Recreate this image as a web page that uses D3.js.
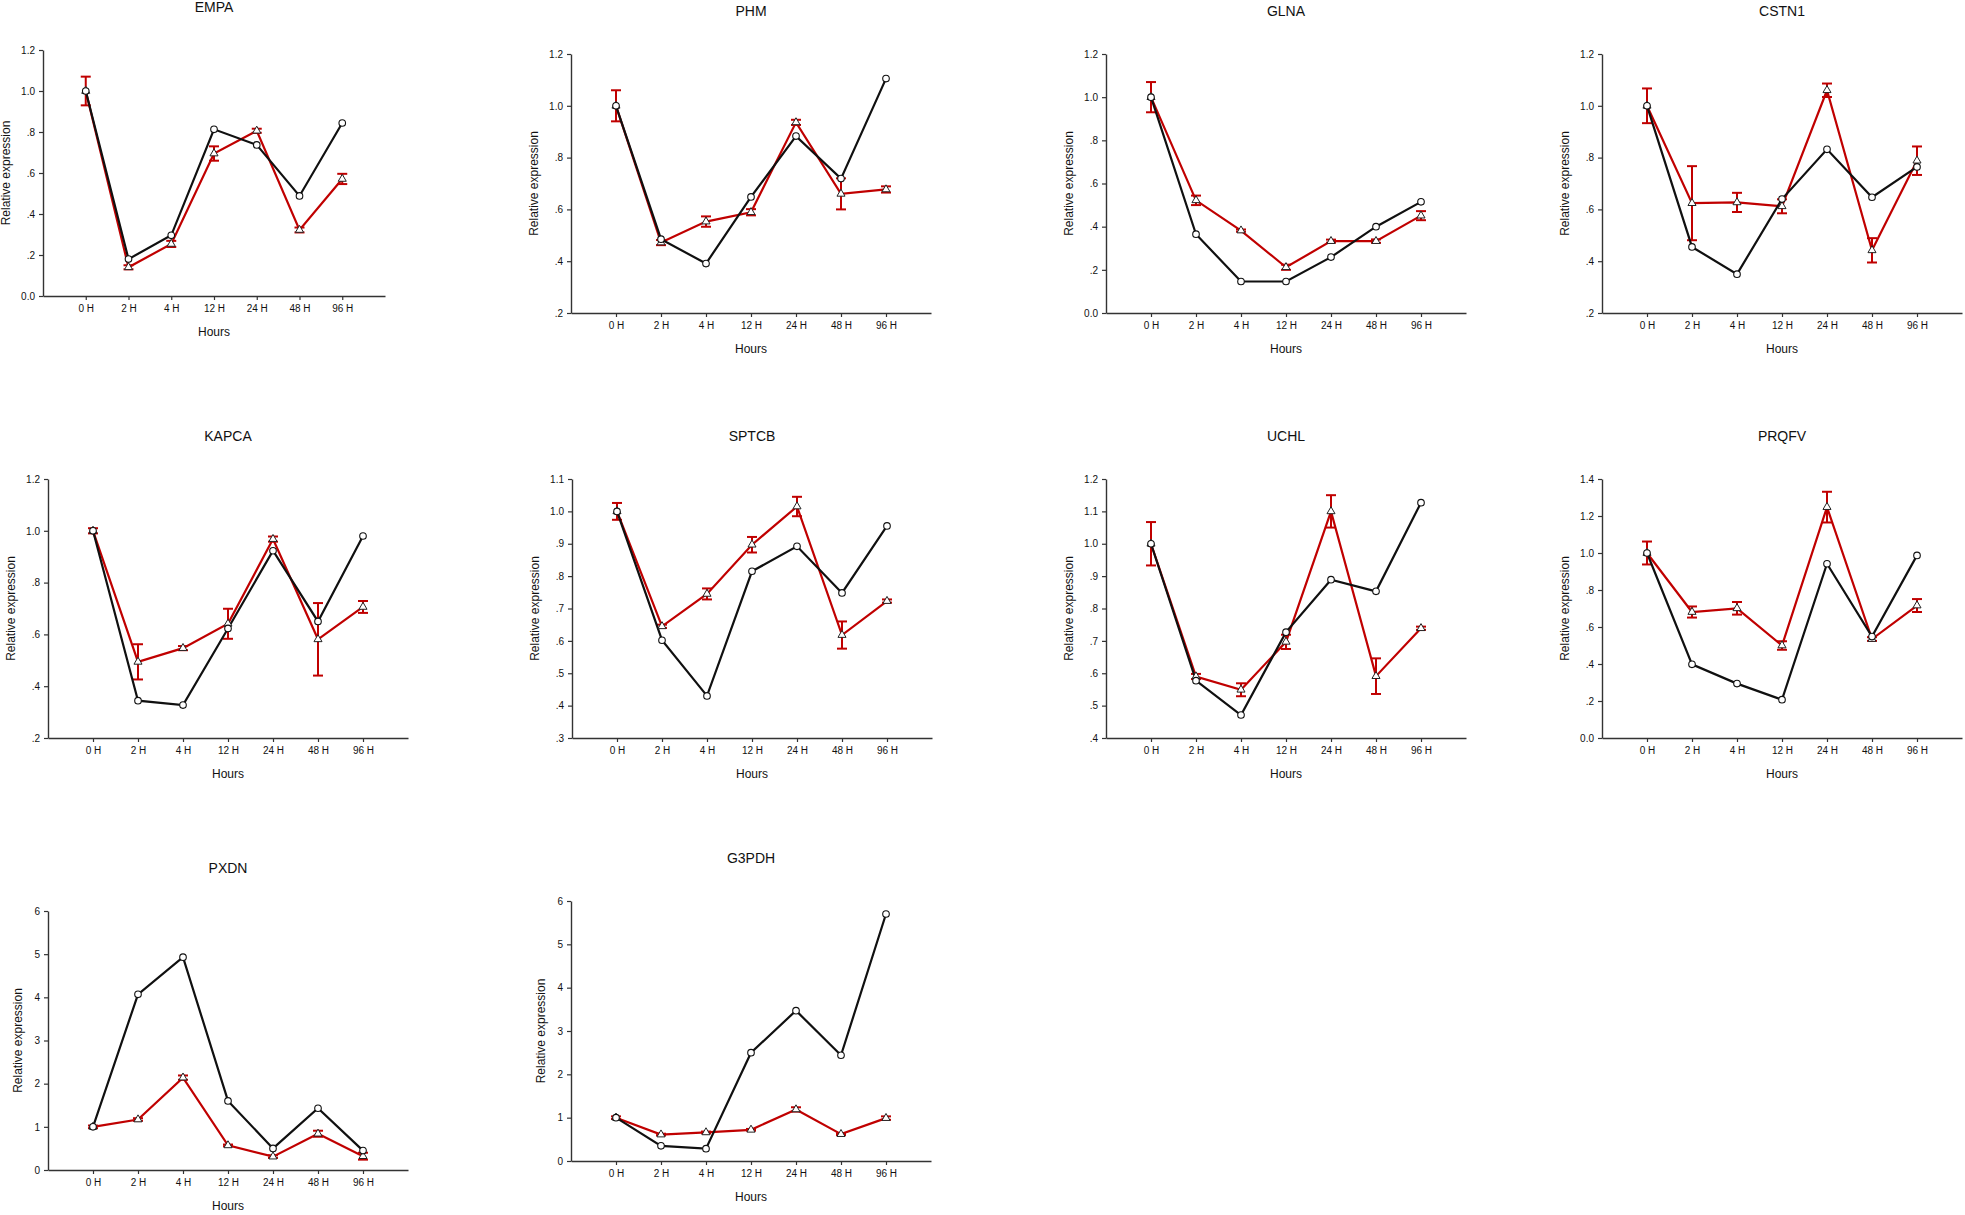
<!DOCTYPE html>
<html>

  <head>
    <meta charset="utf-8">
    <script src="https://d3js.org/d3.v7.min.js"></script>
    <style>
      body { margin: 0; background: #ffffff; }
      text { font-family: Arial, "Liberation Sans", sans-serif; fill: #111; }
    </style>
  </head>

  <body>

    <div id="chart">
      <svg width="1965" height="1215"></svg>
    </div>

    <script>

      const hours = ['0 H', '2 H', '4 H', '12 H', '24 H', '48 H', '96 H'];

      // black line, open circles
      const empaCtrl = [1.0, 0.18, 0.296, 0.813, 0.737, 0.488, 0.844];
      // red line, triangles, with error
      const empaTrt = [1.0, 0.14, 0.254, 0.695, 0.806, 0.322, 0.571];
      const empaErr = [0.07, 0.01, 0.015, 0.035, 0.01, 0.012, 0.025];
      const empaTicks = [0, 0.2, 0.4, 0.6, 0.8, 1.0, 1.2];

      const phmCtrl = [1.0, 0.485, 0.391, 0.648, 0.883, 0.719, 1.105];
      const phmTrt = [1.0, 0.472, 0.553, 0.589, 0.936, 0.66, 0.677];
      const phmErr = [0.06, 0.01, 0.02, 0.012, 0.01, 0.06, 0.012];
      const phmTicks = [0.2, 0.4, 0.6, 0.8, 1.0, 1.2];

      const glnaCtrl = [1.0, 0.365, 0.146, 0.146, 0.259, 0.40, 0.515];
      const glnaTrt = [1.0, 0.522, 0.382, 0.212, 0.333, 0.333, 0.451];
      const glnaErr = [0.07, 0.022, 0.005, 0.012, 0.007, 0.008, 0.021];
      const glnaTicks = [0, 0.2, 0.4, 0.6, 0.8, 1.0, 1.2];

      const cstn1Ctrl = [1.0, 0.455, 0.350, 0.640, 0.832, 0.647, 0.764];
      const cstn1Trt = [1.0, 0.624, 0.627, 0.612, 1.06, 0.442, 0.788];
      const cstn1Err = [0.067, 0.143, 0.037, 0.027, 0.026, 0.047, 0.055];
      const cstn1Ticks = [0.2, 0.4, 0.6, 0.8, 1.0, 1.2];

      const kapcaCtrl = [1.0, 0.344, 0.327, 0.623, 0.923, 0.650, 0.98];
      const kapcaTrt = [1.0, 0.494, 0.547, 0.641, 0.968, 0.581, 0.706];
      const kapcaErr = [0.01, 0.068, 0.008, 0.058, 0.01, 0.14, 0.023];
      const kapcaTicks = [0.2, 0.4, 0.6, 0.8, 1.0, 1.2];

      const sptcbCtrl = [1.0, 0.602, 0.430, 0.815, 0.892, 0.748, 0.955];
      const sptcbTrt = [1.0, 0.645, 0.745, 0.897, 1.015, 0.618, 0.723];
      const sptcbErr = [0.026, 0.005, 0.017, 0.024, 0.03, 0.042, 0.005];
      const sptcbTicks = [0.3, 0.4, 0.5, 0.6, 0.7, 0.8, 0.9, 1.0, 1.1];

      const uchlCtrl = [1.0, 0.577, 0.471, 0.727, 0.889, 0.853, 1.127];
      const uchlTrt = [1.0, 0.590, 0.549, 0.697, 1.1, 0.591, 0.739];
      const uchlErr = [0.067, 0.008, 0.02, 0.022, 0.05, 0.055, 0.005];
      const uchlTicks = [0.4, 0.5, 0.6, 0.7, 0.8, 0.9, 1.0, 1.1, 1.2];

      const prqfvCtrl = [1.0, 0.398, 0.294, 0.207, 0.942, 0.548, 0.987];
      const prqfvTrt = [1.0, 0.681, 0.701, 0.50, 1.248, 0.535, 0.716];
      const prqfvErr = [0.062, 0.03, 0.034, 0.023, 0.083, 0.01, 0.035];
      const prqfvTicks = [0, 0.2, 0.4, 0.6, 0.8, 1.0, 1.2, 1.4];

      const pxdnCtrl = [1.0, 4.07, 4.93, 1.60, 0.50, 1.43, 0.45];
      const pxdnTrt = [1.0, 1.17, 2.14, 0.57, 0.31, 0.84, 0.32];
      const pxdnErr = [0.03, 0.03, 0.05, 0.02, 0.03, 0.07, 0.08];
      const pxdnTicks = [0, 1, 2, 3, 4, 5, 6];

      const g3pdhCtrl = [1.0, 0.35, 0.285, 2.50, 3.47, 2.44, 5.70];
      const g3pdhTrt = [1.0, 0.61, 0.66, 0.72, 1.19, 0.62, 0.99];
      const g3pdhErr = [0.03, 0.02, 0.02, 0.02, 0.05, 0.02, 0.04];
      const g3pdhTicks = [0, 1, 2, 3, 4, 5, 6];

      const panels = [
        { title: 'EMPA', ctrl: empaCtrl, trt: empaTrt, err: empaErr, ticks: empaTicks, left: 43, top: 50, w: 342, h: 246 },
        { title: 'PHM', ctrl: phmCtrl, trt: phmTrt, err: phmErr, ticks: phmTicks, left: 571, top: 54, w: 360, h: 259 },
        { title: 'GLNA', ctrl: glnaCtrl, trt: glnaTrt, err: glnaErr, ticks: glnaTicks, left: 1106, top: 54, w: 360, h: 259 },
        { title: 'CSTN1', ctrl: cstn1Ctrl, trt: cstn1Trt, err: cstn1Err, ticks: cstn1Ticks, left: 1602, top: 54, w: 360, h: 259 },
        { title: 'KAPCA', ctrl: kapcaCtrl, trt: kapcaTrt, err: kapcaErr, ticks: kapcaTicks, left: 48, top: 479, w: 360, h: 259 },
        { title: 'SPTCB', ctrl: sptcbCtrl, trt: sptcbTrt, err: sptcbErr, ticks: sptcbTicks, left: 572, top: 479, w: 360, h: 259 },
        { title: 'UCHL', ctrl: uchlCtrl, trt: uchlTrt, err: uchlErr, ticks: uchlTicks, left: 1106, top: 479, w: 360, h: 259 },
        { title: 'PRQFV', ctrl: prqfvCtrl, trt: prqfvTrt, err: prqfvErr, ticks: prqfvTicks, left: 1602, top: 479, w: 360, h: 259 },
        { title: 'PXDN', ctrl: pxdnCtrl, trt: pxdnTrt, err: pxdnErr, ticks: pxdnTicks, left: 48, top: 911, w: 360, h: 259 },
        { title: 'G3PDH', ctrl: g3pdhCtrl, trt: g3pdhTrt, err: g3pdhErr, ticks: g3pdhTicks, left: 571, top: 901, w: 360, h: 260 }
      ];

      const red = '#c00000';
      const black = '#101010';

      // SigmaPlot style labels: 0.0, .2, .4 ... 1.0
      function tickLabel(integer) {
        return function (d) {
          if (integer) return d3.format('d')(d);
          if (d === 0) return '0.0';
          const s = d3.format('.1f')(d);
          return d < 1 ? s.replace(/^0/, '') : s;
        };
      }

      function drawPanel(svg, p) {
        const g = svg.append('g').attr('transform', `translate(${p.left},${p.top})`);
        const integer = p.ticks.every(t => Number.isInteger(t));

        const x = d3.scalePoint().domain(hours).range([0, p.w]).padding(1);
        const y = d3.scaleLinear()
          .domain([p.ticks[0], p.ticks[p.ticks.length - 1]])
          .range([p.h, 0]);

        const xAxis = g.append('g')
          .attr('transform', `translate(0,${p.h})`)
          .call(d3.axisBottom(x).tickSize(4).tickSizeOuter(0).tickPadding(5));

        const yAxis = g.append('g')
          .call(d3.axisLeft(y).tickValues(p.ticks).tickFormat(tickLabel(integer))
            .tickSize(4).tickSizeOuter(0).tickPadding(4));

        [xAxis, yAxis].forEach(a => {
          a.select('.domain').attr('stroke', '#333').attr('stroke-width', 1.4);
          a.selectAll('.tick line').attr('stroke', '#333').attr('stroke-width', 1.2);
          a.selectAll('.tick text')
            .attr('font-family', 'Arial, "Liberation Sans", sans-serif')
            .attr('font-size', 10)
            .attr('fill', '#111');
        });

        // title baseline sits about 38px above the plot top
        g.append('text')
          .attr('x', p.w / 2)
          .attr('y', -38)
          .attr('text-anchor', 'middle')
          .attr('font-size', 14)
          .text(p.title);

        g.append('text')
          .attr('x', p.w / 2)
          .attr('y', p.h + 36)
          .attr('dy', '0.35em')
          .attr('text-anchor', 'middle')
          .attr('font-size', 12)
          .text('Hours');

        g.append('text')
          .attr('transform', `translate(${integer ? -30 : -37},${p.h / 2}) rotate(-90)`)
          .attr('dy', '0.35em')
          .attr('text-anchor', 'middle')
          .attr('font-size', 12)
          .text('Relative expression');

        const line = d3.line()
          .x((d, i) => x(hours[i]))
          .y(d => y(d));

        // red series with error bars
        g.append('path')
          .datum(p.trt)
          .attr('d', line)
          .attr('fill', 'none')
          .attr('stroke', red)
          .attr('stroke-width', 2.2);

        const bars = g.append('g')
          .attr('stroke', red)
          .attr('stroke-width', 2)
          .selectAll('g')
          .data(p.trt)
          .join('g');

        bars.append('line')
          .attr('x1', (d, i) => x(hours[i]))
          .attr('x2', (d, i) => x(hours[i]))
          .attr('y1', (d, i) => y(d + p.err[i]))
          .attr('y2', (d, i) => y(d - p.err[i]));

        [1, -1].forEach(sign => {
          bars.append('line')
            .attr('x1', (d, i) => x(hours[i]) - 5)
            .attr('x2', (d, i) => x(hours[i]) + 5)
            .attr('y1', (d, i) => y(d + sign * p.err[i]))
            .attr('y2', (d, i) => y(d + sign * p.err[i]));
        });

        // black series
        g.append('path')
          .datum(p.ctrl)
          .attr('d', line)
          .attr('fill', 'none')
          .attr('stroke', black)
          .attr('stroke-width', 2.2);

        g.selectAll('.tri')
          .data(p.trt)
          .join('path')
          .attr('class', 'tri')
          .attr('transform', (d, i) => `translate(${x(hours[i])},${y(d)})`)
          .attr('d', d3.symbol(d3.symbolTriangle).size(28))
          .attr('fill', '#ffffff')
          .attr('stroke', '#222')
          .attr('stroke-width', 1);

        g.selectAll('.dot')
          .data(p.ctrl)
          .join('circle')
          .attr('class', 'dot')
          .attr('cx', (d, i) => x(hours[i]))
          .attr('cy', d => y(d))
          .attr('r', 3.3)
          .attr('fill', '#ffffff')
          .attr('stroke', black)
          .attr('stroke-width', 1.1);
      }

      const svg = d3.select('#chart').select('svg');
      svg.append('rect').attr('width', 1965).attr('height', 1215).attr('fill', '#ffffff');

      panels.forEach(p => drawPanel(svg, p));

    </script>

  </body>

</html>
